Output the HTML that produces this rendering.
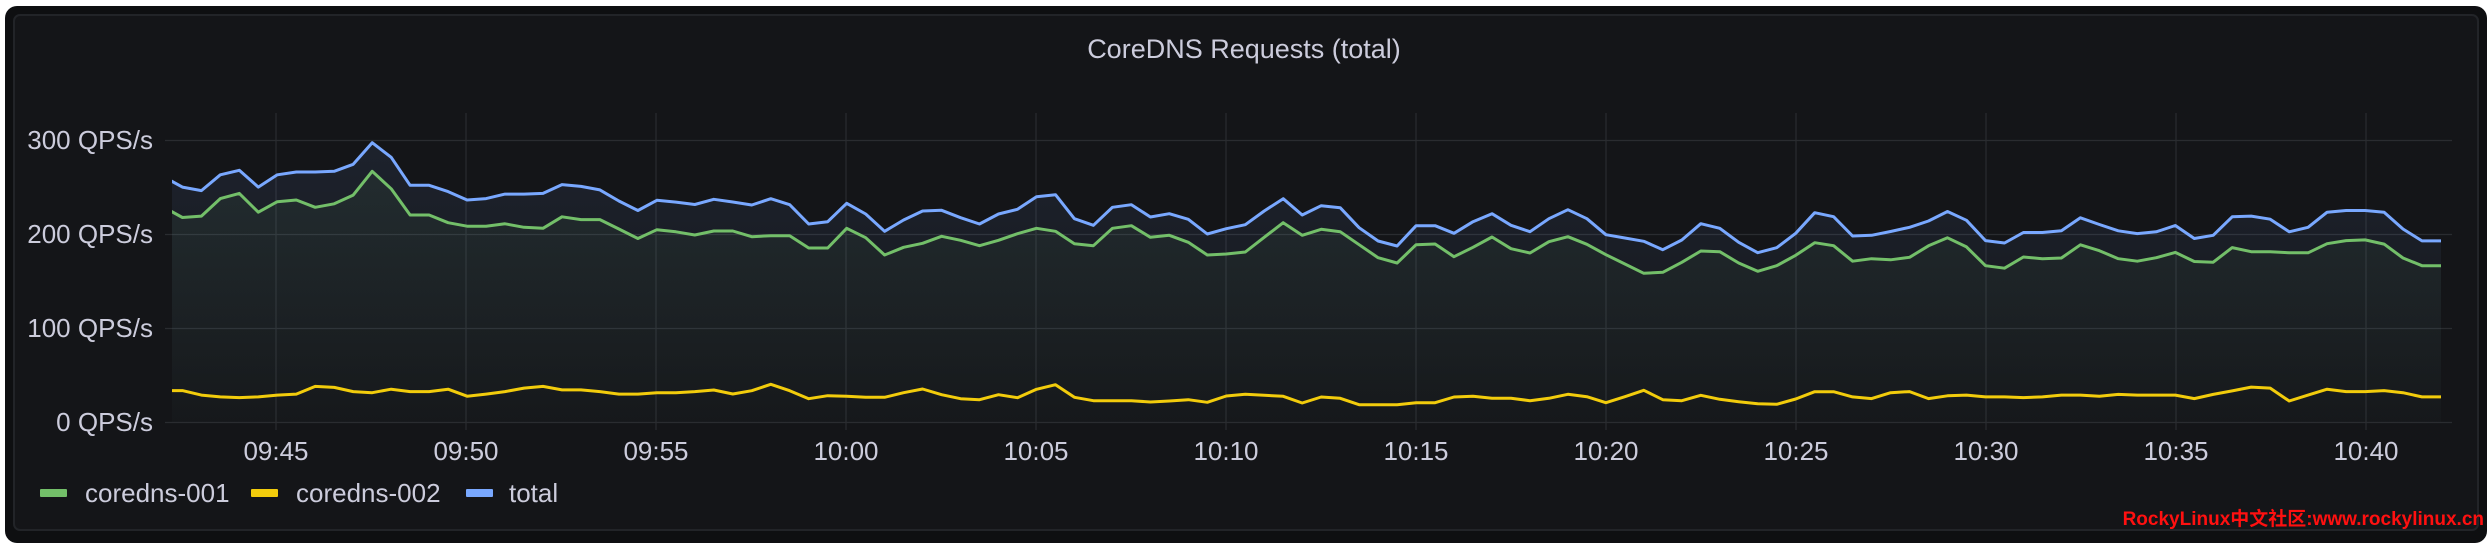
<!DOCTYPE html>
<html><head><meta charset="utf-8"><style>
html,body{margin:0;padding:0;background:#fff;width:2492px;height:548px;overflow:hidden}
svg{display:block}
text{font-family:"Liberation Sans",sans-serif}
</style></head><body>
<svg id="s" width="2492" height="548" xmlns="http://www.w3.org/2000/svg">
<defs>
<linearGradient id="gb" x1="0" y1="0" x2="0" y2="1"><stop offset="0" stop-color="#7aa7ff" stop-opacity="0.09"/><stop offset="1" stop-color="#7aa7ff" stop-opacity="0.01"/></linearGradient>
<linearGradient id="gg" x1="0" y1="0" x2="0" y2="1"><stop offset="0" stop-color="#73bf69" stop-opacity="0.07"/><stop offset="1" stop-color="#73bf69" stop-opacity="0.01"/></linearGradient>
<clipPath id="cp"><rect x="172" y="100" width="2269" height="330"/></clipPath>
</defs>
<rect x="5" y="6" width="2482" height="537" rx="12" fill="#0e0f11"/>
<rect x="14" y="15" width="2464" height="515" rx="6" fill="#141518" stroke="#222428" stroke-width="2"/>
<text x="1244" y="58" font-size="27" fill="#ccccdc" text-anchor="middle">CoreDNS Requests (total)</text>
<g stroke="#2a2c30" stroke-width="1.2">
<line x1="165" y1="140.5" x2="2452" y2="140.5"/>
<line x1="165" y1="234.5" x2="2452" y2="234.5"/>
<line x1="165" y1="328.5" x2="2452" y2="328.5"/>
<line x1="165" y1="422.5" x2="2452" y2="422.5"/>
<g id="vg"></g>
</g>
<g font-size="26" fill="#ccccdc" text-anchor="end">
<text x="153" y="149">300 QPS/s</text>
<text x="153" y="243">200 QPS/s</text>
<text x="153" y="337">100 QPS/s</text>
<text x="153" y="431">0 QPS/s</text>
</g>
<g id="xl" font-size="26" fill="#ccccdc" text-anchor="middle"></g>
<g id="series" clip-path="url(#cp)"></g>
<rect x="40" y="489" width="27" height="8" rx="1" fill="#73bf69"/>
<text x="85" y="502" font-size="26" fill="#ccccdc">coredns-001</text>
<rect x="251" y="489" width="27" height="8" rx="1" fill="#f2cc0c"/>
<text x="296" y="502" font-size="26" fill="#ccccdc">coredns-002</text>
<rect x="466" y="489" width="27" height="8" rx="1" fill="#79a8ff"/>
<text x="509" y="502" font-size="26" fill="#ccccdc">total</text>
<text x="2484" y="525" font-size="19" font-weight="bold" fill="#ff1010" text-anchor="end" style="font-family:'Liberation Sans','Noto Sans CJK SC',sans-serif">RockyLinux中文社区:www.rockylinux.cn</text>
</svg>
<script>
var A={b:[505,535,545,500,487,535,500,492,492,490,470,408,450,530,530,548,572,568,555,555,553,528,533,543,575,602,573,578,585],
g:[592,622,618,568,553,607,577,572,593,583,558,490,540,615,615,637,647,647,640,650,653,620,628,628,655,682,657,663,672],
y:[1117,1117,1130,1135,1137,1135,1130,1127,1105,1108,1120,1123,1113,1120,1120,1113,1133,1127,1120,1110,1105,1115,1115,1120,1127,1127,1123,1123,1120]};
var B={b:[238,246,255,236,254,312,305,250,282,334,300,273,271,293,312,282,268,230,224,296,316,262,254,291,281,298,342,326,314,273],
g:[333,333,350,347,347,384,384,325,353,405,382,370,349,361,377,361,341,325,334,371,377,325,317,352,346,367,405,402,396,352],
y:[810,822,812,793,812,836,827,829,832,832,818,807,824,836,839,824,833,808,794,832,842,842,842,846,843,839,847,828,823,826]};
var C={b:[236,285,257,263,323,363,378,317,317,340,305,281,316,335,296,269,296,344,354,364,389,360,311,325,367,398,383,340,278,290],
g:[308,346,328,335,374,413,429,374,372,410,382,351,386,399,365,350,373,404,432,460,457,427,393,395,429,454,437,406,368,377],
y:[829,849,831,835,854,854,854,848,848,831,829,835,835,842,835,823,830,848,830,811,839,842,826,838,845,851,853,837,815,815]};
var D={b:[675,673,662,650,632,605,630,688,695,665,665,660,623,642,660,668,663,645,682,673,620,618,627,663,650,607,602,602,607,655,689,689],
g:[747,740,743,736,703,680,706,760,767,735,740,738,700,717,740,747,737,722,748,750,708,720,720,723,723,697,688,686,698,738,760,760],
y:[1135,1140,1123,1120,1140,1132,1130,1135,1135,1137,1135,1130,1130,1133,1128,1130,1130,1130,1140,1128,1118,1107,1110,1147,1130,1113,1120,1120,1117,1123,1135,1135]};
function conv(k){var r=[];
A[k].forEach(function(z){r.push(z/2.86)});
B[k].forEach(function(z){r.push(120+z/3)});
C[k].forEach(function(z){r.push(120+z/3)});
D[k].forEach(function(z){r.push(z/2.86)});return r;}
function X(i){return 163.4+i*18.98;}
function path(a){return a.map(function(v,i){return (i?'L':'M')+X(i).toFixed(1)+','+v.toFixed(1)}).join('');}
var ns='http://www.w3.org/2000/svg',S=document.getElementById('series');
function add(tag,attrs,par){var e=document.createElementNS(ns,tag);for(var k in attrs)e.setAttribute(k,attrs[k]);(par||S).appendChild(e);return e;}
var bl=conv('b'),gr=conv('g'),ye=conv('y');
var n=bl.length-1;
add('path',{d:path(bl)+'L'+X(n)+',422L'+X(0)+',422Z',fill:'url(#gb)'});
add('path',{d:path(gr)+'L'+X(n)+',422L'+X(0)+',422Z',fill:'url(#gg)'});
add('path',{d:path(gr),fill:'none',stroke:'#73bf69','stroke-width':3,'stroke-linejoin':'round'});
add('path',{d:path(ye),fill:'none',stroke:'#f2cc0c','stroke-width':3,'stroke-linejoin':'round'});
add('path',{d:path(bl),fill:'none',stroke:'#79a8ff','stroke-width':3,'stroke-linejoin':'round'});
var lab=['09:45','09:50','09:55','10:00','10:05','10:10','10:15','10:20','10:25','10:30','10:35','10:40'];
var vg=document.getElementById('vg'),xl=document.getElementById('xl');
lab.forEach(function(t,i){var x=276+i*190.0;
add('line',{x1:x,y1:113,x2:x,y2:430},vg);
var e=add('text',{x:x,y:460},xl);e.textContent=t;});
</script>
</body></html>
